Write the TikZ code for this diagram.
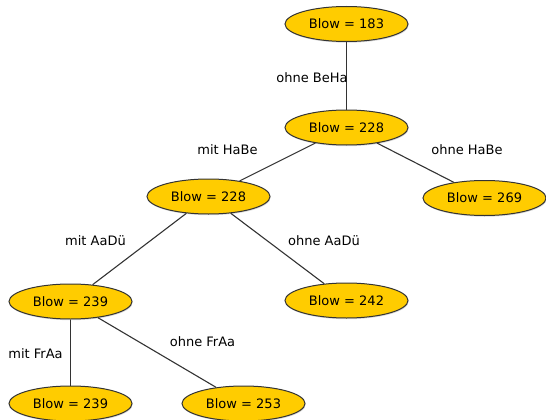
\documentclass[tikz,border=0pt]{standalone}
\usepackage{fontspec}
\setmainfont{DejaVu Sans}
\usetikzlibrary{shapes.geometric,shadows}
\definecolor{nodegold}{HTML}{FFCC00}
\definecolor{edgegray}{HTML}{333333}
\begin{document}
\begin{tikzpicture}[x=1pt,y=-1pt,
  font=\fontsize{13}{15}\selectfont,
  treenode/.style={ellipse, draw=edgegray, line width=1pt, fill=nodegold,
    minimum width=123pt, minimum height=35pt, inner sep=0pt,
    drop shadow={opacity=0.3, shadow xshift=0.6pt, shadow yshift=-1.2pt}},
  branch/.style={draw=edgegray, line width=1.1pt},
  lbl/.style={inner sep=0pt, anchor=center}]
\useasboundingbox (0,0) rectangle (546,420);

% decision tree nodes
\node[treenode] (n183) at (346.5,24) {Blow = 183};
\node[treenode] (n228a) at (346.5,127.5) {Blow = 228};
\node[treenode] (n269) at (484.5,198) {Blow = 269};
\node[treenode] (n228b) at (208.5,196.5) {Blow = 228};
\node[treenode] (n242) at (346.5,300.5) {Blow = 242};
\node[treenode] (n239a) at (70.5,301.5) {Blow = 239};
\node[treenode] (n239b) at (70.5,403.5) {Blow = 239};
\node[treenode] (n253) at (243.5,403.5) {Blow = 253};

% branches
\draw[branch] (n183) -- (n228a);
\draw[branch] (n228a) -- (n228b);
\draw[branch] (n228a) -- (n269);
\draw[branch] (n228b) -- (n239a);
\draw[branch] (n228b) -- (n242);
\draw[branch] (n239a) -- (n239b);
\draw[branch] (n239a) -- (n253);

% branch labels
\node[lbl] (l1) at (312,78) {ohne BeHa};
\node[lbl] (l2) at (227.5,150) {mit HaBe};
\node[lbl] (l3) at (467,150) {ohne HaBe};
\node[lbl] (l4) at (95.5,240.5) {mit AaDü};
\node[lbl] (l5) at (324,240.5) {ohne AaDü};
\node[lbl] (l6) at (202.5,342) {ohne FrAa};
\node[lbl] (l7) at (35.5,354) {mit FrAa};
\end{tikzpicture}
\end{document}
